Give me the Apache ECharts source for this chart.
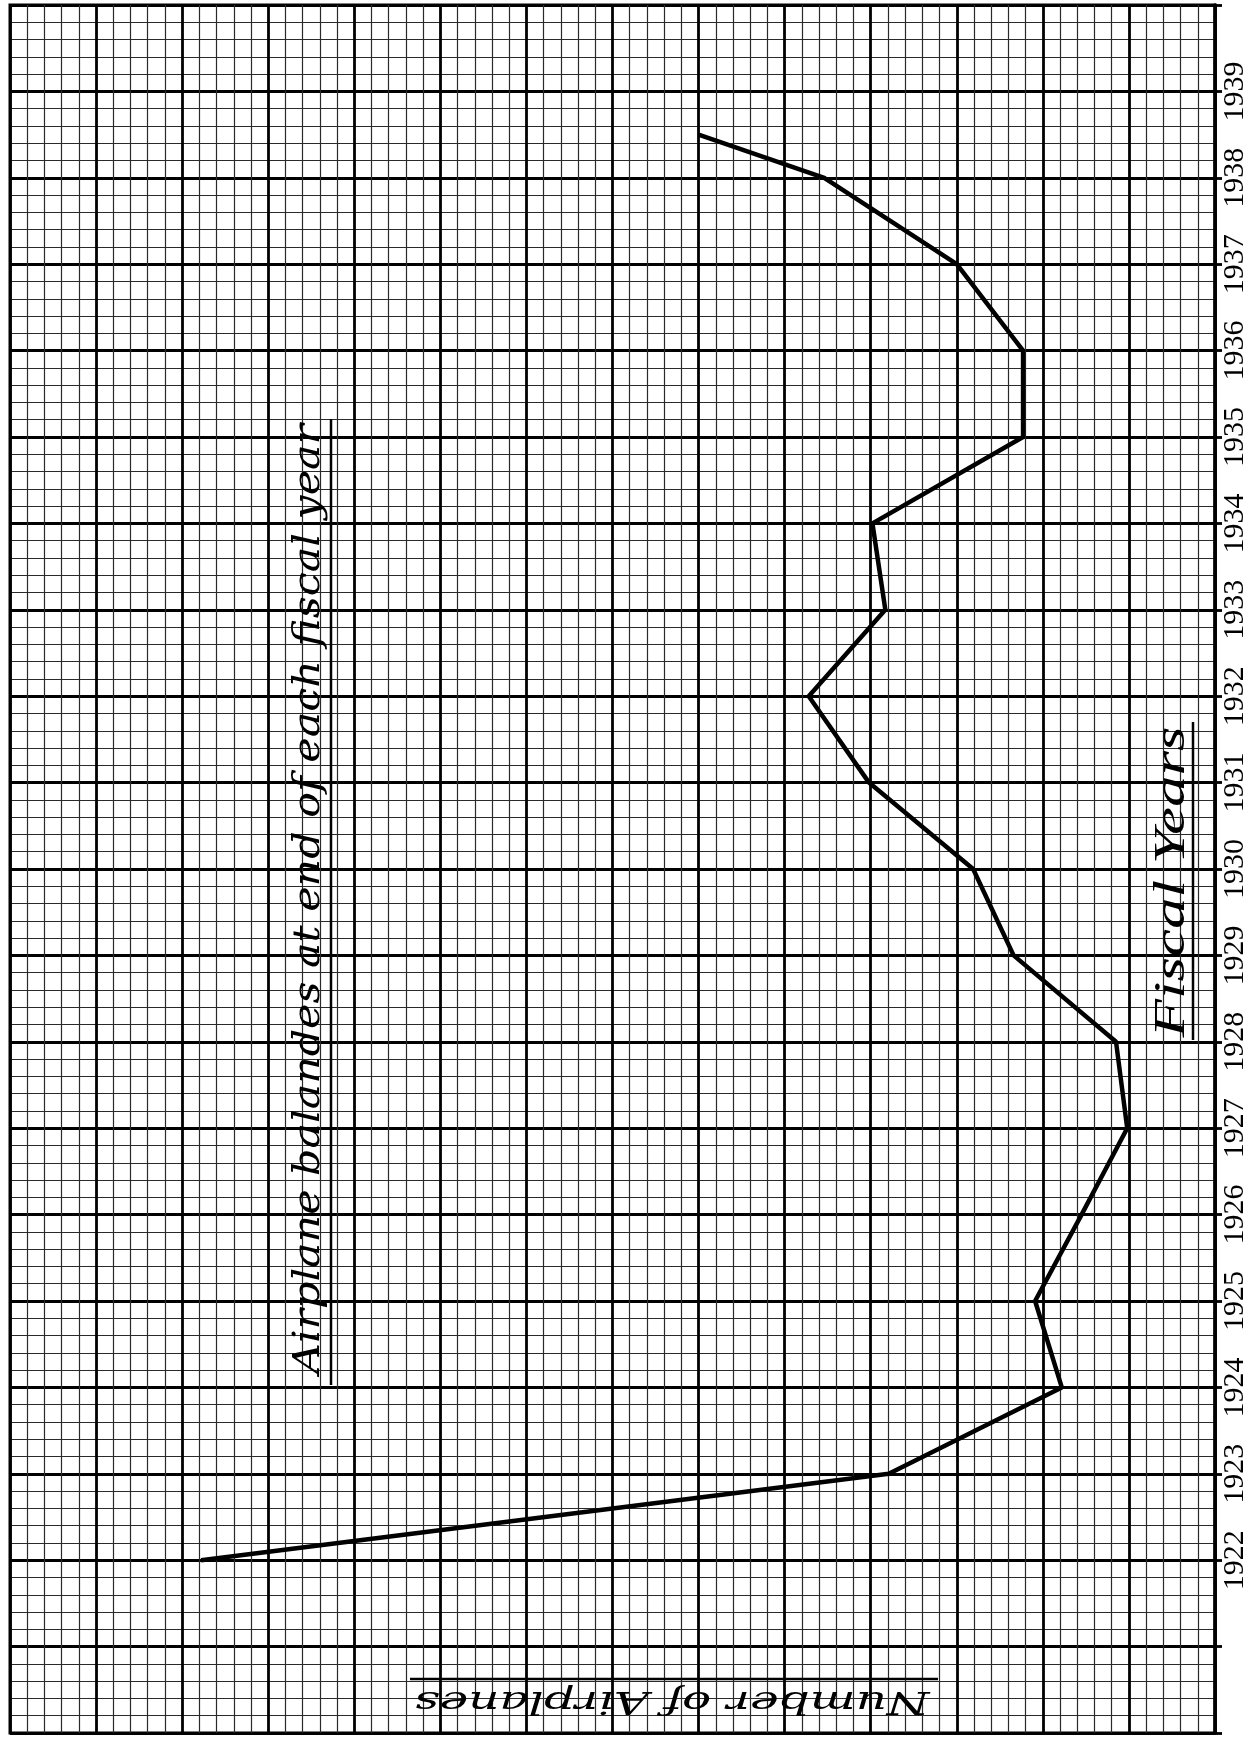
<!DOCTYPE html>
<html><head><meta charset="utf-8">
<script src="https://cdn.jsdelivr.net/npm/echarts@6/dist/echarts.min.js"></script>
<style>html,body{margin:0;padding:0;background:#fff}#c{width:1250px;height:1740px}</style>
</head><body><div id="c"></div>
<script>
// Fiscal years (1938.5 = last plotted point, half-way into FY 1939)
const years = [1922, 1923, 1924, 1925, 1926, 1927, 1928, 1929, 1930, 1931, 1932, 1933, 1934, 1935, 1936, 1937, 1938, 1938.5];
// Number of airplanes (estimated; scale labels are cut off in the source)
const airplanes = [1178, 379, 178, 209, 155, 102, 115, 234, 281, 402, 472, 383, 398, 223, 223, 300, 454, 600];
// Year tick labels shown on the right
const yearLabels = [1922, 1923, 1924, 1925, 1926, 1927, 1928, 1929, 1930, 1931, 1932, 1933, 1934, 1935, 1936, 1937, 1938, 1939];

const titleText = 'Airplane balandes at end of each fiscal year';
const yearsTitle = 'Fiscal Years';
const countTitle = 'Number of Airplanes';

function fitScale(text, font, target) {
  const ctx = document.createElement('canvas').getContext('2d');
  ctx.font = font;
  return target / ctx.measureText(text).width;
}

const titleFont = 'italic 37px "DejaVu Serif"';
const yearsFont = 'italic 44px "Liberation Serif"';
const countFont = 'italic 32px "DejaVu Serif"';

const chart = echarts.init(document.getElementById('c'), null, { renderer: 'canvas' });

const majorLine = { color: '#000', width: 2.8 };
const minorLine = { color: '#2a2a2a', width: 1.2 };

chart.setOption({
  animation: false,
  backgroundColor: '#fff',
  grid: { left: 10, right: 31, top: 5, bottom: 7, show: true, borderColor: '#000', borderWidth: 3, containLabel: false },
  xAxis: {
    type: 'value', inverse: true, min: 0, max: 1400, interval: 100,
    axisLine: { show: false }, axisTick: { show: false }, axisLabel: { show: false },
    splitLine: { show: true, lineStyle: majorLine },
    minorTick: { show: false, splitNumber: 5 },
    minorSplitLine: { show: true, lineStyle: minorLine }
  },
  yAxis: {
    type: 'value', position: 'right', min: 1920, max: 1940, interval: 1,
    axisLine: { show: true, lineStyle: { color: '#000', width: 3.5 } },
    axisTick: { show: true, length: 7, lineStyle: { color: '#000', width: 2.8 } },
    axisLabel: {
      rotate: 90, margin: 5, fontFamily: 'Liberation Serif', fontSize: 30, color: '#000',
      formatter: v => yearLabels.includes(v) ? String(v) : ''
    },
    splitLine: { show: true, lineStyle: majorLine },
    minorTick: { show: false, splitNumber: 5 },
    minorSplitLine: { show: true, lineStyle: minorLine }
  },
  series: [{
    type: 'line',
    data: years.map((y, i) => [airplanes[i], y]),
    symbol: 'none',
    lineStyle: { color: '#000', width: 4.5 },
    z: 5
  }],
  graphic: [
    { type: 'text', x: 309, y: 899, rotation: Math.PI / 2, scaleX: fitScale(titleText, titleFont, 950), z: 10,
      style: { text: titleText, font: titleFont, fill: '#000', align: 'center', verticalAlign: 'middle' } },
    { type: 'line', z: 10, shape: { x1: 331, y1: 1385, x2: 331, y2: 419 }, style: { stroke: '#000', lineWidth: 2.5 } },
    { type: 'text', x: 1172, y: 882, rotation: Math.PI / 2, scaleX: fitScale(yearsTitle, yearsFont, 311), z: 10,
      style: { text: yearsTitle, font: yearsFont, fill: '#000', align: 'center', verticalAlign: 'middle' } },
    { type: 'line', z: 10, shape: { x1: 1193, y1: 1040, x2: 1193, y2: 722 }, style: { stroke: '#000', lineWidth: 2.5 } },
    { type: 'text', x: 672, y: 1700, rotation: Math.PI, scaleX: fitScale(countTitle, countFont, 515), z: 10,
      style: { text: countTitle, font: countFont, fill: '#000', align: 'center', verticalAlign: 'middle' } },
    { type: 'line', z: 10, shape: { x1: 410, y1: 1679, x2: 938, y2: 1679 }, style: { stroke: '#000', lineWidth: 2.5 } }
  ]
});
</script>
</body></html>
